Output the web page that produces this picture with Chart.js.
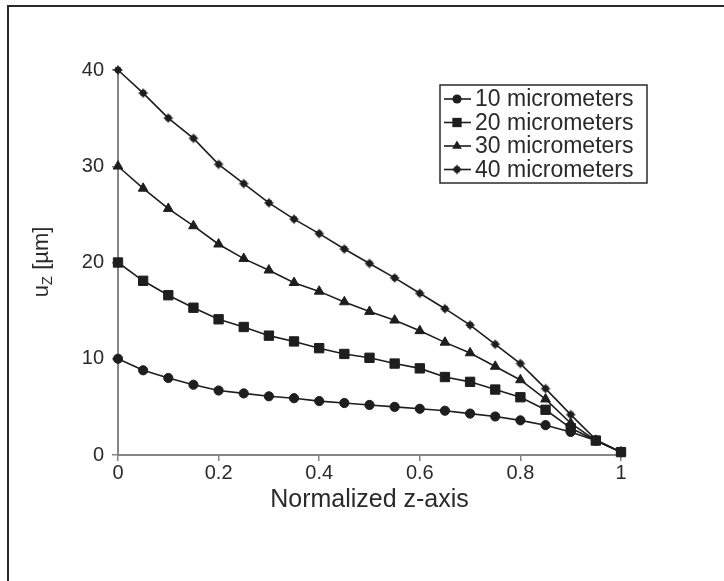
<!DOCTYPE html>
<html>
<head>
<meta charset="utf-8">
<script src="https://cdn.jsdelivr.net/npm/chart.js@4.4.1/dist/chart.umd.min.js"></script>
<style>
  html, body { margin: 0; padding: 0; background: #fff; }
  #wrap { position: relative; width: 724px; height: 581px; }
</style>
</head>
<body>
<div id="wrap"><canvas id="myChart" width="724" height="581"></canvas></div>
<script>
// normalized position along z
const zPos = [0, 0.05, 0.1, 0.15, 0.2, 0.25, 0.3, 0.35, 0.4, 0.45, 0.5,
              0.55, 0.6, 0.65, 0.7, 0.75, 0.8, 0.85, 0.9, 0.95, 1];

// displacement u_z [um] per layer thickness
const um10 = [10, 8.8, 8.0, 7.3, 6.7, 6.4, 6.1, 5.9, 5.6, 5.4, 5.2,
              5.0, 4.8, 4.6, 4.3, 4.0, 3.6, 3.1, 2.4, 1.5, 0.3];
const um20 = [20, 18.1, 16.6, 15.3, 14.1, 13.3, 12.4, 11.8, 11.1, 10.5, 10.1,
              9.5, 9.0, 8.1, 7.6, 6.8, 6.0, 4.7, 2.8, 1.5, 0.3];
const um30 = [30, 27.7, 25.6, 23.8, 21.9, 20.4, 19.2, 17.9, 17.0, 15.9, 14.9,
              14.0, 12.9, 11.7, 10.6, 9.2, 7.8, 5.8, 3.3, 1.5, 0.3];
const um40 = [40, 37.6, 35.0, 32.9, 30.2, 28.2, 26.2, 24.5, 23.0, 21.4, 19.9,
              18.4, 16.8, 15.2, 13.5, 11.5, 9.5, 6.9, 4.2, 1.6, 0.3];

const seriesNames = ['10 micrometers', '20 micrometers', '30 micrometers', '40 micrometers'];
const xTicks = [0, 0.2, 0.4, 0.6, 0.8, 1];
const yTicks = [0, 10, 20, 30, 40];

const ink = '#1e1e1e';
const textInk = '#2a2a2a';
const axisGray = '#858585';
const fontFam = '"Liberation Sans", Arial, sans-serif';

// little spiky dot used for the 40 um curve
function starDot() {
  const c = document.createElement('canvas');
  c.width = 12; c.height = 12;
  const g = c.getContext('2d');
  g.fillStyle = ink;
  g.strokeStyle = ink;
  g.lineWidth = 1.4;
  g.beginPath(); g.arc(6, 6, 3.4, 0, Math.PI * 2); g.fill();
  g.beginPath();
  g.moveTo(1.5, 6); g.lineTo(10.5, 6);
  g.moveTo(6, 1.5); g.lineTo(6, 10.5);
  g.stroke();
  return c;
}

function pairs(vals) {
  return zPos.map((z, i) => ({ x: z, y: vals[i] }));
}

const markers = [
  { style: 'circle', radius: 4.6 },
  { style: 'rect', radius: 6.6 },
  { style: 'triangle', radius: 5.6 },
  { style: starDot(), radius: 6 }
];

const datasets = [um10, um20, um30, um40].map((vals, i) => ({
  label: seriesNames[i],
  data: pairs(vals),
  borderColor: ink,
  borderWidth: 1.6,
  backgroundColor: ink,
  pointStyle: markers[i].style,
  pointRadius: markers[i].radius,
  pointBackgroundColor: ink,
  pointBorderColor: ink,
  pointBorderWidth: 1,
  tension: 0,
  clip: false
}));

// frame round the figure
const framePlugin = {
  id: 'frame',
  beforeDraw(chart) {
    const ctx = chart.ctx;
    ctx.save();
    ctx.strokeStyle = '#2a2a2a';
    ctx.lineWidth = 2;
    ctx.beginPath();
    ctx.moveTo(8, 581);
    ctx.lineTo(8, 6);
    ctx.lineTo(724, 6);
    ctx.stroke();
    ctx.restore();
  }
};

function drawMarker(ctx, m, x, y) {
  if (m.style instanceof HTMLCanvasElement) {
    ctx.drawImage(m.style, x - m.style.width / 2, y - m.style.height / 2);
    return;
  }
  ctx.beginPath();
  const r = m.radius;
  if (m.style === 'circle') {
    ctx.arc(x, y, r, 0, Math.PI * 2);
  } else if (m.style === 'rect') {
    const s = r * Math.SQRT1_2;
    ctx.rect(x - s, y - s, 2 * s, 2 * s);
  } else if (m.style === 'triangle') {
    ctx.moveTo(x, y - r);
    ctx.lineTo(x + r * 0.866, y + r * 0.5);
    ctx.lineTo(x - r * 0.866, y + r * 0.5);
    ctx.closePath();
  }
  ctx.fill();
}

// boxed legend with line + marker samples
const legendPlugin = {
  id: 'boxLegend',
  afterDraw(chart) {
    const ctx = chart.ctx;
    const bx = 440, by = 85, bw = 207, bh = 98;
    ctx.save();
    ctx.strokeStyle = '#2a2a2a';
    ctx.lineWidth = 1.5;
    ctx.strokeRect(bx, by, bw, bh);
    ctx.font = '23px ' + fontFam;
    ctx.textBaseline = 'middle';
    chart.data.datasets.forEach((ds, i) => {
      const y = by + 14 + i * 23.5;
      ctx.strokeStyle = ink;
      ctx.lineWidth = 1.6;
      ctx.beginPath();
      ctx.moveTo(bx + 4, y);
      ctx.lineTo(bx + 31, y);
      ctx.stroke();
      ctx.fillStyle = ink;
      drawMarker(ctx, markers[i], bx + 17, y);
      ctx.fillStyle = textInk;
      ctx.fillText(ds.label, bx + 35, y + 1);
    });
    ctx.restore();
  }
};

// vertical axis title with subscript z
const yTitlePlugin = {
  id: 'yTitle',
  afterDraw(chart) {
    const ctx = chart.ctx;
    ctx.save();
    ctx.translate(42, 262);
    ctx.rotate(-Math.PI / 2);
    ctx.fillStyle = textInk;
    ctx.textBaseline = 'middle';
    const big = '22px ' + fontFam;
    const small = '15px ' + fontFam;
    ctx.font = big;
    const wU = ctx.measureText('u').width;
    const rest = ' [\u00b5m]';
    const wRest = ctx.measureText(rest).width;
    ctx.font = small;
    const wZ = ctx.measureText('Z').width;
    let x = -(wU + wZ + wRest) / 2;
    ctx.textAlign = 'left';
    ctx.font = big;
    ctx.fillText('u', x, 0);
    x += wU;
    ctx.font = small;
    ctx.fillText('Z', x, 6);
    x += wZ;
    ctx.font = big;
    ctx.fillText(rest, x, 0);
    ctx.restore();
  }
};

const ctx = document.getElementById('myChart').getContext('2d');
const myChart = new Chart(ctx, {
  type: 'line',
  data: { datasets: datasets },
  options: {
    responsive: false,
    animation: false,
    layout: { padding: { left: 0, right: 103, top: 70, bottom: 66 } },
    plugins: { legend: { display: false }, tooltip: { enabled: false } },
    scales: {
      x: {
        type: 'linear',
        min: 0, max: 1,
        afterBuildTicks: axis => { axis.ticks = xTicks.map(v => ({ value: v })); },
        border: { display: true, color: axisGray, width: 2 },
        grid: { drawOnChartArea: false, drawTicks: true, tickLength: 6, color: axisGray, lineWidth: 1.5 },
        ticks: {
          color: textInk, padding: 0,
          font: { family: fontFam, size: 20 },
          callback: v => String(v)
        },
        title: {
          display: true, text: 'Normalized z-axis', color: textInk,
          font: { family: fontFam, size: 25 },
          padding: { top: 0, bottom: 0 }
        }
      },
      y: {
        min: 0, max: 40,
        afterBuildTicks: axis => { axis.ticks = yTicks.map(v => ({ value: v })); },
        afterFit: scale => { scale.width = 118; },
        border: { display: true, color: axisGray, width: 2 },
        grid: { drawOnChartArea: false, drawTicks: true, tickLength: 6, color: axisGray, lineWidth: 1.5 },
        ticks: {
          color: textInk, padding: 8,
          font: { family: fontFam, size: 20 }
        },
        title: { display: false }
      }
    }
  },
  plugins: [framePlugin, legendPlugin, yTitlePlugin]
});
</script>
</body>
</html>
